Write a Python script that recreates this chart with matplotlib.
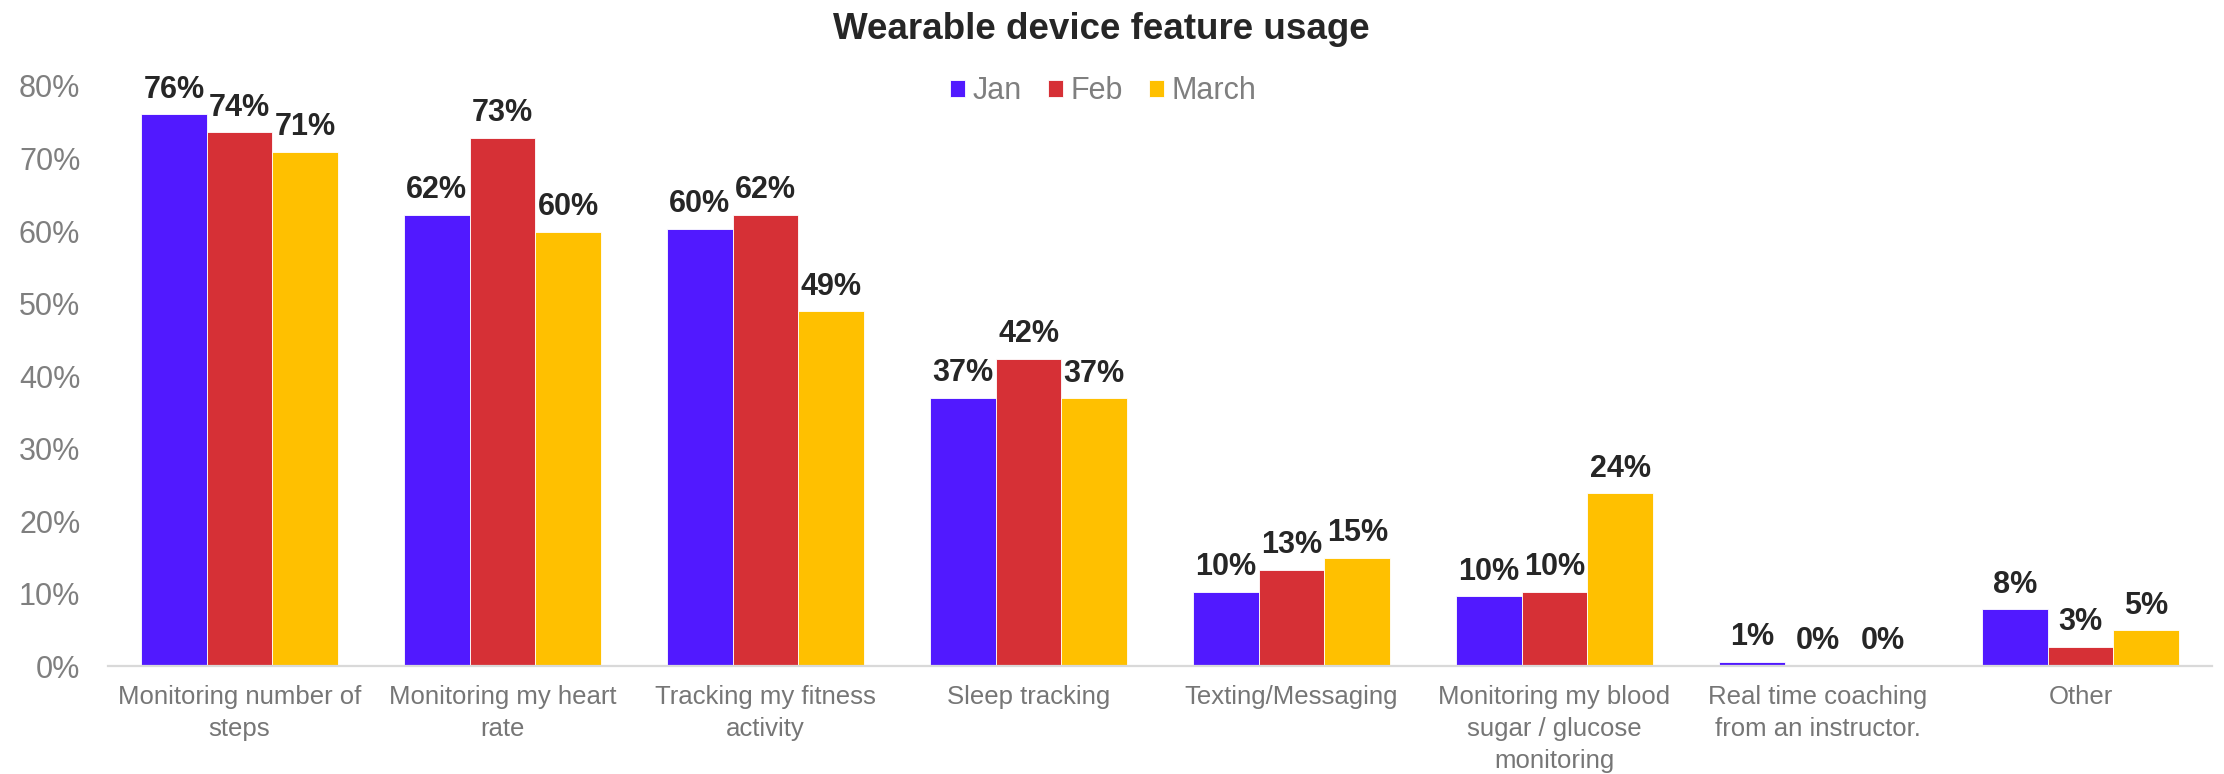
import numpy as np
import matplotlib
matplotlib.use("Agg")
import matplotlib.pyplot as plt

# ------------------------------------------------------
# Survey data (share of respondents using each feature)
# ------------------------------------------------------
features = [
    "Monitoring number of\nsteps",
    "Monitoring my heart\nrate",
    "Tracking my fitness\nactivity",
    "Sleep tracking",
    "Texting/Messaging",
    "Monitoring my blood\nsugar / glucose\nmonitoring",
    "Real time coaching\nfrom an instructor.",
    "Other",
]
months = ["Jan", "Feb", "March"]

jan = [76.1, 62.2, 60.3, 37.0, 10.2, 9.6, 0.6, 7.8]
feb = [73.6, 72.8, 62.2, 42.4, 13.3, 10.2, 0.0, 2.6]
march = [70.9, 59.9, 48.9, 36.9, 14.9, 23.8, 0.0, 4.9]

colors = ["#5119FF", "#D63036", "#FFC000"]

# ------------------------------------------------------
# Figure
# ------------------------------------------------------
plt.rcParams["font.family"] = ["Liberation Sans", "DejaVu Sans"]

fig = plt.figure(figsize=(22.24, 7.74), dpi=100)
ax = fig.add_axes([0.0486, 0.1395, 0.9460, 0.7494])

x = np.arange(len(features))
width = 0.25
series = [jan, feb, march]

for i, (name, vals, col) in enumerate(zip(months, series, colors)):
    vals = np.array(vals) / 100.0
    bars = ax.bar(x + (i - 1) * width, vals, width, color=col, label=name,
                  edgecolor="white", linewidth=0.6, zorder=2)
    ax.bar_label(bars, labels=[f"{v * 100:.0f}%" for v in vals], padding=7,
                 fontsize=22, fontweight="bold", color="#262626", clip_on=False)

ax.set_xlim(-0.5, len(features) - 0.5)
ax.set_ylim(0, 0.8)
ax.set_yticks(np.arange(0, 0.81, 0.1))
ax.set_yticklabels([f"{int(round(t * 100))}%" for t in np.arange(0, 0.81, 0.1)])
ax.set_xticks(x)
ax.set_xticklabels(features, linespacing=1.4)

ax.tick_params(axis="y", length=0, pad=20, labelsize=22, labelcolor="#7F7F7F")
ax.tick_params(axis="x", length=0, pad=14, labelsize=18.5, labelcolor="#767676")

for side in ["top", "right", "left"]:
    ax.spines[side].set_visible(False)
ax.spines["bottom"].set_color("#D9D9D9")
ax.spines["bottom"].set_linewidth(1.6)

fig.suptitle("Wearable device feature usage", x=0.495, y=0.985,
             fontsize=26.5, fontweight="bold", color="#262626")

fig.legend(loc="center", bbox_to_anchor=(0.496, 0.882), ncol=3, frameon=False,
           fontsize=22, labelcolor="#7F7F7F", handlelength=0.5, handleheight=0.5,
           handletextpad=0.25, columnspacing=0.85)

fig.savefig("out.png", dpi=100)
